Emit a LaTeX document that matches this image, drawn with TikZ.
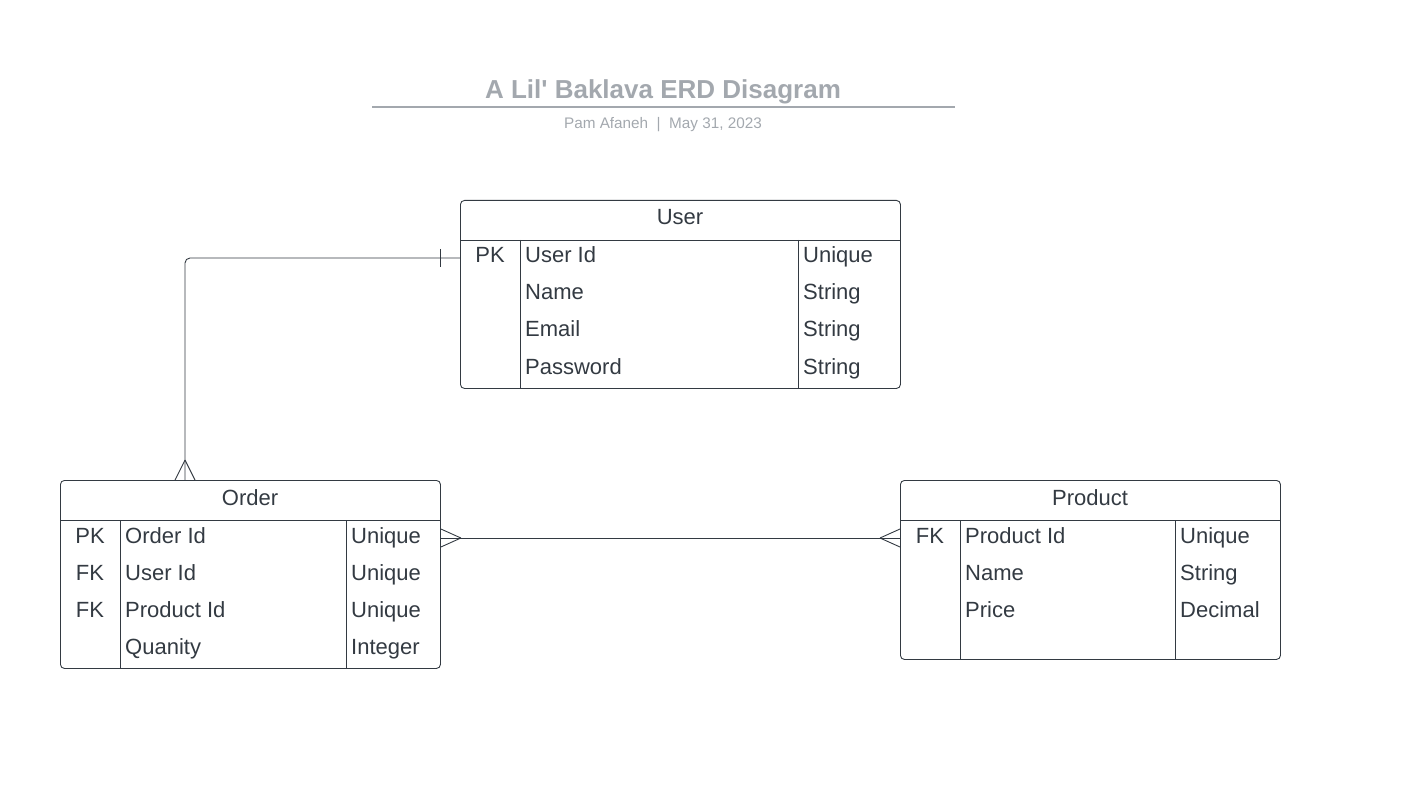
\documentclass[tikz,border=0pt]{standalone}
\usepackage{fontspec}
\setmainfont{Liberation Sans}
\usepackage{xcolor}
\definecolor{titlegray}{HTML}{A3A8AE}
\definecolor{ink}{HTML}{333A42}
\tikzset{
  entity/.style={draw=ink, line width=0.9pt, rounded corners=4pt, anchor=north west, inner sep=0pt},
  head/.style={anchor=base, text=ink, font=\fontsize{22}{26}\selectfont, inner sep=0pt},
  key/.style={anchor=base, text=ink, font=\fontsize{22}{26}\selectfont, inner sep=0pt},
  cell/.style={anchor=base west, text=ink, font=\fontsize{22}{26}\selectfont, inner sep=0pt},
  rel/.style={draw=ink, line width=0.9pt},
}

\begin{document}
\begin{tikzpicture}[x=1pt,y=-1pt]
\useasboundingbox (0,0) rectangle (1408,786);

% title block
\node[font=\fontsize{26}{30}\selectfont\bfseries, text=titlegray] (title) at (663,92) {A Lil\textquotesingle{} Baklava ERD Disagram};
\draw[titlegray, line width=1.5pt] (372,107) -- (955,107);
\node[font=\fontsize{15.3}{18}\selectfont, text=titlegray] (byline) at (663,125) {Pam Afaneh\ \ |\ \ May 31, 2023};

% User
\node[entity, minimum width=440pt, minimum height=188pt] (user) at (460,200) {};
\node[head] (userhead) at (680,225) {User};
\draw[rel] (460,240) -- (900,240);
\draw[rel] (520,240) -- (520,388);
\draw[rel] (798,240) -- (798,388);
\foreach \k/\f/\t [count=\i] in {PK/User Id/Unique, /Name/String, /Email/String, /Password/String}{
  \node[key] (ukey\i) at (490,226+37*\i) {\k};
  \node[cell] (ufield\i) at (525,226+37*\i) {\f};
  \node[cell] (utype\i) at (803,226+37*\i) {\t};
}

% Order
\node[entity, minimum width=380pt, minimum height=188pt] (order) at (60,480) {};
\node[head] (orderhead) at (250,505) {Order};
\draw[rel] (60,520) -- (440,520);
\draw[rel] (120,520) -- (120,668);
\draw[rel] (346,520) -- (346,668);
\foreach \k/\f/\t [count=\i] in {PK/Order Id/Unique, FK/User Id/Unique, FK/Product Id/Unique, /Quanity/Integer}{
  \node[key] (okey\i) at (90,506+37*\i) {\k};
  \node[cell] (ofield\i) at (125,506+37*\i) {\f};
  \node[cell] (otype\i) at (351,506+37*\i) {\t};
}

% Product
\node[entity, minimum width=380pt, minimum height=179pt] (product) at (900,480) {};
\node[head] (producthead) at (1090,505) {Product};
\draw[rel] (900,520) -- (1280,520);
\draw[rel] (960,520) -- (960,659);
\draw[rel] (1175,520) -- (1175,659);
\foreach \k/\f/\t [count=\i] in {FK/Product Id/Unique, /Name/String, /Price/Decimal}{
  \node[key] (pkey\i) at (930,506+37*\i) {\k};
  \node[cell] (pfield\i) at (965,506+37*\i) {\f};
  \node[cell] (ptype\i) at (1180,506+37*\i) {\t};
}

% relationships
\coordinate (upk) at ([yshift=-58pt]user.north west);
\coordinate (ouser) at ([xshift=125pt]order.north west);
\draw[rel, rounded corners=5pt] (upk) -| (ouser);
\draw[rel] ([xshift=-20pt,yshift=9pt]upk) -- ([xshift=-20pt,yshift=-9pt]upk);
\draw[rel] ([yshift=20pt]ouser) -- ([xshift=-10pt]ouser);
\draw[rel] ([yshift=20pt]ouser) -- ([xshift=10pt]ouser);

\coordinate (oprod) at ([yshift=-58pt]order.north east);
\coordinate (porder) at ([yshift=-58pt]product.north west);
\draw[rel] (oprod) -- (porder);
\draw[rel] ([xshift=20pt]oprod) -- ([yshift=9pt]oprod);
\draw[rel] ([xshift=20pt]oprod) -- ([yshift=-9pt]oprod);
\draw[rel] ([xshift=-20pt]porder) -- ([yshift=9pt]porder);
\draw[rel] ([xshift=-20pt]porder) -- ([yshift=-9pt]porder);
\end{tikzpicture}
\end{document}
